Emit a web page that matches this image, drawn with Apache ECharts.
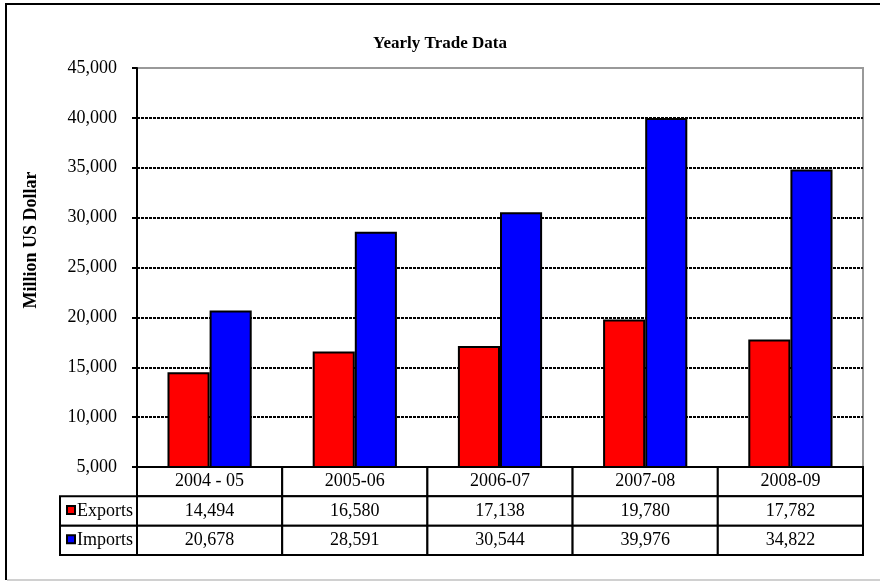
<!DOCTYPE html>
<html>
<head>
<meta charset="utf-8">
<script src="https://cdn.jsdelivr.net/npm/echarts@6/dist/echarts.min.js"></script>
<style>html,body{margin:0;padding:0;background:#fff;}#c{width:880px;height:582px;}</style>
</head>
<body>
<div id="c"></div>
<script>
const categories = ['2004 - 05', '2005-06', '2006-07', '2007-08', '2008-09'];
const exportsData = [14494, 16580, 17138, 19780, 17782];
const importsData = [20678, 28591, 30544, 39976, 34822];
const seriesNames = ['Exports', 'Imports'];
const seriesColors = ['#FF0000', '#0000FF'];
const yTicks = { min: 5000, max: 45000, interval: 5000 };
const yAxisTitle = 'Million US Dollar';
const chartTitle = 'Yearly Trade Data';

const FONT = 'Liberation Serif';
const fmt = v => v.toLocaleString('en-US');

// table cells: row 0 header, row 1 exports, row 2 imports
const cells = [];
categories.forEach((c, i) => {
  cells.push({ value: [i, 0], text: c });
  cells.push({ value: [i, 1], text: fmt(exportsData[i]) });
  cells.push({ value: [i, 2], text: fmt(importsData[i]) });
});

const nLines = Math.round((yTicks.max - yTicks.min) / yTicks.interval) + 1;
const gridColors = Array.from({ length: nLines }, (_, k) => k === nLines - 1 ? '#999' : '#000');

const chart = echarts.init(document.getElementById('c'), null, { renderer: 'canvas' });

chart.setOption({
  animation: false,
  backgroundColor: '#fff',
  title: {
    text: chartTitle,
    left: 'center',
    top: 30,
    textStyle: { fontFamily: FONT, fontSize: 17, fontWeight: 'bold', color: '#000' }
  },
  graphic: [
    {
      type: 'polyline', silent: true, z: -1,
      shape: { points: [[6, 580], [6, 4], [892, 4]] },
      style: { fill: 'none', stroke: '#000', lineWidth: 2 }
    },
    {
      type: 'line', silent: true, z: -1,
      shape: { x1: 7, y1: 580, x2: 892, y2: 580 },
      style: { stroke: '#d0d0d0', lineWidth: 2 }
    },
    {
      type: 'text', x: 31, y: 240, rotation: Math.PI / 2,
      style: { text: yAxisTitle, fill: '#000', font: 'bold 18px "' + FONT + '"',
               align: 'center', verticalAlign: 'middle' }
    }
  ],
  grid: [
    { left: 137, right: 17, top: 68, bottom: 115, show: true, borderColor: '#999', borderWidth: 2, backgroundColor: 'transparent' },
    { left: 137, right: 17, top: 467, height: 88 }
  ],
  xAxis: [
    {
      type: 'category', gridIndex: 0, data: categories,
      axisLine: { show: true, lineStyle: { color: '#000', width: 2 } },
      axisTick: { show: false }, axisLabel: { show: false }, splitLine: { show: false }
    },
    {
      type: 'category', gridIndex: 1, data: categories, show: false
    }
  ],
  yAxis: [
    {
      type: 'value', gridIndex: 0, min: yTicks.min, max: yTicks.max, interval: yTicks.interval,
      axisLine: { show: true, lineStyle: { color: '#000', width: 2 } },
      axisTick: { show: true, length: 5, lineStyle: { color: '#000', width: 2 } },
      axisLabel: { fontFamily: FONT, fontSize: 18, color: '#000', margin: 20, formatter: v => fmt(v) },
      splitLine: { show: true, lineStyle: { color: gridColors, width: 2, type: [3, 1] } }
    },
    {
      type: 'category', gridIndex: 1, data: ['h', 'e', 'i'], inverse: true, show: false
    }
  ],
  series: [
    {
      name: seriesNames[0], type: 'bar', data: exportsData, barGap: '0%', barCategoryGap: '42%',
      itemStyle: { color: seriesColors[0], borderColor: '#000', borderWidth: 2 }
    },
    {
      name: seriesNames[1], type: 'bar', data: importsData, barGap: '0%', barCategoryGap: '42%',
      itemStyle: { color: seriesColors[1], borderColor: '#000', borderWidth: 2 }
    },
    {
      type: 'custom', xAxisIndex: 1, yAxisIndex: 1, clip: false,
      data: cells.map(c => c.value),
      renderItem: function (params, api) {
        const i = api.value(0), r = api.value(1);
        const c = api.coord([i, r]);
        const s = api.size([1, 1]);
        const x = c[0] - s[0] / 2, y = c[1] - s[1] / 2;
        const children = [
          { type: 'rect', shape: { x: x, y: y, width: s[0], height: s[1] },
            style: { fill: '#fff', stroke: '#000', lineWidth: 2 } },
          { type: 'text', x: c[0], y: c[1],
            style: { text: cells[params.dataIndex].text, fill: '#000', font: '18px "' + FONT + '"',
                     align: 'center', verticalAlign: 'middle' } }
        ];
        if (i === 0 && r > 0) {
          const lw = 77;
          children.push(
            { type: 'rect', shape: { x: x - lw, y: y, width: lw, height: s[1] },
              style: { fill: '#fff', stroke: '#000', lineWidth: 2 } },
            { type: 'rect', shape: { x: x - lw + 7, y: c[1] - 5, width: 8, height: 8 },
              style: { fill: seriesColors[r - 1], stroke: '#000', lineWidth: 2 } },
            { type: 'text', x: x - lw + 17, y: c[1],
              style: { text: seriesNames[r - 1], fill: '#000', font: '18px "' + FONT + '"',
                       align: 'left', verticalAlign: 'middle' } }
          );
        }
        return { type: 'group', children: children };
      }
    }
  ]
});
</script>
</body>
</html>
